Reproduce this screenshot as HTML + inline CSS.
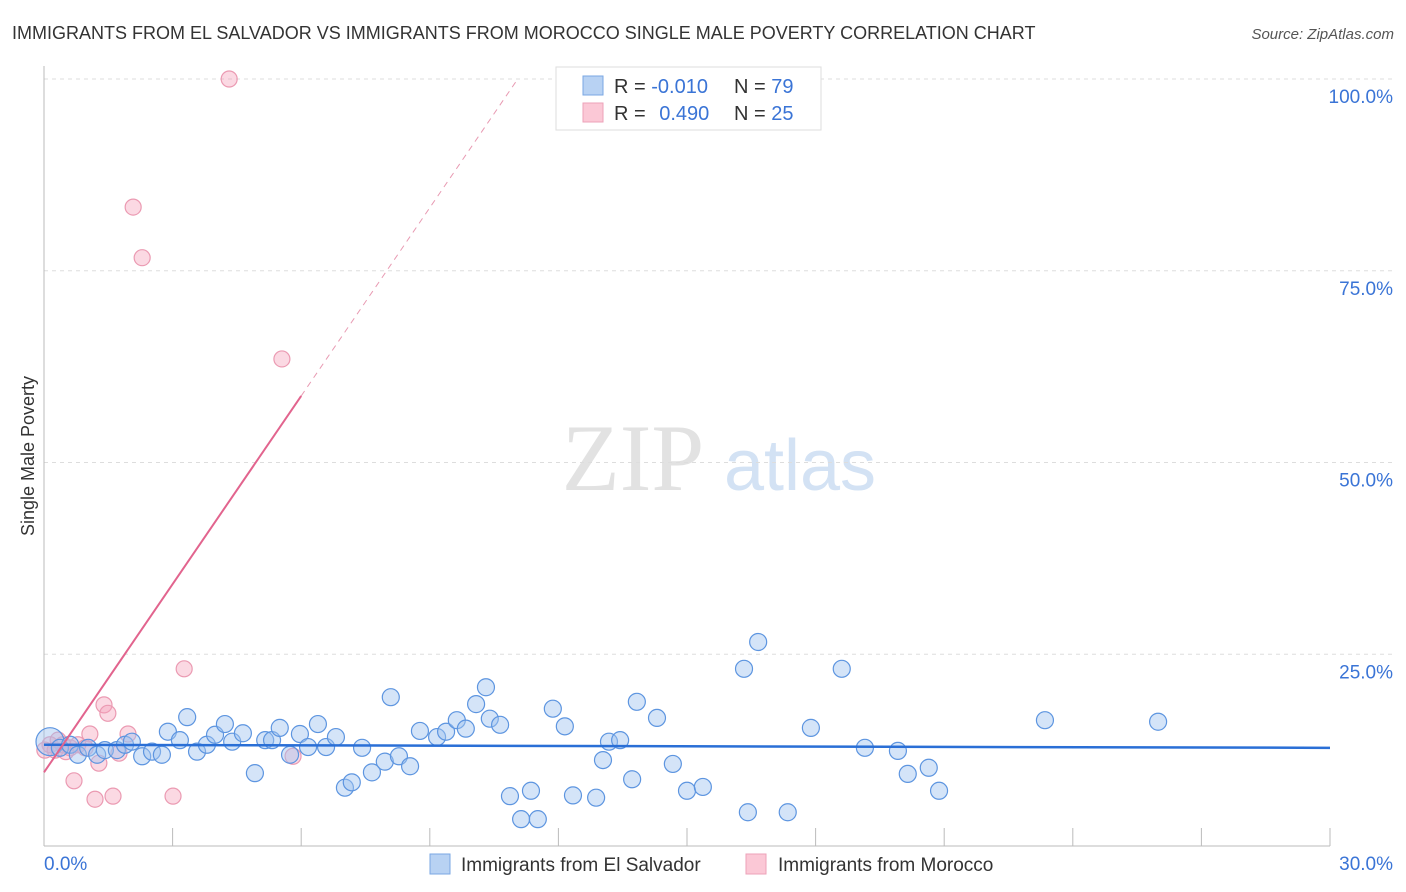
<!DOCTYPE html>
<html><head><meta charset="utf-8"><style>
body{margin:0;background:#fff;font-family:"Liberation Sans",sans-serif}
#wrap{position:relative;width:1406px;height:892px;overflow:hidden}
</style></head><body><div id="wrap">
<svg id="svg" width="1406" height="892" xmlns="http://www.w3.org/2000/svg">
<text x="12" y="39" font-size="18" fill="#333">IMMIGRANTS FROM EL SALVADOR VS IMMIGRANTS FROM MOROCCO SINGLE MALE POVERTY CORRELATION CHART</text>
<text x="1394" y="39" font-size="15" fill="#555" font-style="italic" text-anchor="end">Source: ZipAtlas.com</text>
<text x="0" y="0" transform="translate(34,456) rotate(-90)" font-size="18" fill="#333" text-anchor="middle">Single Male Poverty</text>
<g><text x="633" y="490" font-size="95" fill="#e2e2e2" font-family="Liberation Serif" text-anchor="middle">ZIP</text><text x="800" y="490" font-size="72" fill="#d3e2f4" text-anchor="middle">atlas</text></g>
<g id="grid"></g><g id="marks"></g>
<g>
<rect x="556" y="67" width="265" height="63" fill="#fff" stroke="#ddd"/>
<rect x="583" y="76" width="20" height="19" fill="#b8d2f3" stroke="#7aa7e3"/>
<rect x="583" y="103" width="20" height="19" fill="#fbc8d6" stroke="#eda2b8"/>
<text x="614" y="93" font-size="20" fill="#333">R = <tspan fill="#3a74d6">-0.010</tspan></text>
<text x="734" y="93" font-size="20" fill="#333">N = <tspan fill="#3a74d6">79</tspan></text>
<text x="614" y="120" font-size="20" fill="#333">R = <tspan fill="#3a74d6" dx="8">0.490</tspan></text>
<text x="734" y="120" font-size="20" fill="#333">N = <tspan fill="#3a74d6">25</tspan></text>
</g>
<g>
<rect x="430" y="854" width="20" height="20" fill="#b8d2f3" stroke="#7aa7e3"/>
<text x="461" y="871" font-size="19" fill="#333">Immigrants from El Salvador</text>
<rect x="746" y="854" width="20" height="20" fill="#fbc8d6" stroke="#eda2b8"/>
<text x="778" y="871" font-size="19" fill="#333">Immigrants from Morocco</text>
</g>
</svg></div>
<script>
const blueX=[0.14,0.37,0.61,0.79,1.03,1.24,1.42,1.70,1.89,2.05,2.29,2.52,2.75,2.89,3.17,3.34,3.57,3.80,3.99,4.22,4.39,4.64,4.92,5.16,5.32,5.50,5.74,5.97,6.16,6.39,6.58,6.81,7.02,7.18,7.42,7.65,7.95,8.09,8.28,8.54,8.77,9.17,9.38,9.63,9.84,10.08,10.31,10.40,10.64,10.87,11.13,11.36,11.52,11.87,12.15,12.34,12.88,13.04,13.18,13.44,13.72,13.83,14.30,14.67,15.00,15.37,16.33,16.42,16.66,17.35,17.89,18.61,19.15,19.92,20.15,20.64,20.88,23.35,25.99];
const blueY=[13.6,12.8,13.2,11.9,12.8,11.9,12.5,12.5,13.2,13.6,11.7,12.3,11.9,14.9,13.8,16.8,12.3,13.2,14.5,15.9,13.6,14.7,9.5,13.8,13.8,15.4,11.9,14.6,12.9,15.9,12.9,14.2,7.6,8.3,12.8,9.6,11.0,19.4,11.7,10.4,15.0,14.2,14.9,16.4,15.3,18.5,20.7,16.6,15.8,6.5,3.5,7.2,3.5,17.9,15.6,6.6,6.3,11.2,13.6,13.8,8.7,18.8,16.7,10.7,7.2,7.7,23.1,4.4,26.6,4.4,15.4,23.1,12.8,12.4,9.4,10.2,7.2,16.4,16.2];
const pinkX=[4.32,2.08,2.29,5.55,3.27,1.40,1.49,1.07,1.96,1.75,1.28,0.70,1.19,1.61,3.01,5.81,0.14,0.26,0.44,0.61,0.79,0.96,0.02,0.33,0.51];
const pinkY=[100.0,83.3,76.7,63.5,23.1,18.4,17.3,14.6,14.6,12.1,10.8,8.5,6.1,6.5,6.5,11.7,13.2,12.5,13.2,12.8,13.2,12.8,12.5,13.8,12.3];
const blueTrend=[13.2,12.8];
const pinkTrend=[9.6,8.18];
const xTicks=[0,3,6,9,12,15,18,21,24,27,30];
const yTicks=[25,50,75,100];
const yTickLabels=["25.0%","50.0%","75.0%","100.0%"];
const NS="http://www.w3.org/2000/svg";
const sx=v=>44+v/30*1286, sy=v=>846-v/100*767;
function mk(t,a,p){const e=document.createElementNS(NS,t);for(const k in a)e.setAttribute(k,a[k]);p.appendChild(e);return e;}
const grid=document.getElementById('grid'),marks=document.getElementById('marks');
yTicks.forEach((v,i)=>{
 const l=mk('line',{x1:44,x2:1392,y1:sy(v),y2:sy(v),stroke:'#ddd','stroke-dasharray':'4,4'},grid);
 
 
 const t=mk('text',{x:1393,y:sy(v)+24,'font-size':19,fill:'#3a74d6','text-anchor':'end'},grid);t.textContent=yTickLabels[i];
 
 
});
const ax=mk('line',{x1:44,x2:44,y1:66,y2:846,stroke:'#bbb'},grid);


const bx=mk('line',{x1:44,x2:1330,y1:846,y2:846,stroke:'#bbb'},grid);


xTicks.forEach(v=>{const l=mk('line',{x1:sx(v),x2:sx(v),y1:828,y2:846,stroke:'#bbb'},grid);
 
 });
const t0=mk('text',{x:44,y:870,'font-size':19,fill:'#3a74d6'},grid);t0.textContent='0.0%';


const t1=mk('text',{x:1393,y:870,'font-size':19,fill:'#3a74d6','text-anchor':'end'},grid);t1.textContent='30.0%';


pinkX.forEach((x,i)=>{const c=mk('circle',{cx:sx(x),cy:sy(pinkY[i]),r:8,fill:'rgba(245,160,185,0.4)',stroke:'#eb9ab2','stroke-width':1.2},marks);
 
 });
blueX.forEach((x,i)=>{const c=mk('circle',{cx:sx(x),cy:sy(blueY[i]),r:i===0?14:8.5,fill:'rgba(160,195,240,0.45)',stroke:'#5d95e0','stroke-width':1.2},marks);
 
 });
const bl=mk('line',{x1:sx(0),y1:sy(blueTrend[0]),x2:sx(30),y2:sy(blueTrend[1]),stroke:'#2a6fd6','stroke-width':2.5},marks);


const pl=mk('line',{x1:sx(0),y1:sy(pinkTrend[0]),x2:sx(6),y2:sy(pinkTrend[0]+pinkTrend[1]*6),stroke:'#e2648e','stroke-width':2},marks);


const xe=(100-pinkTrend[0])/pinkTrend[1];
const pd=mk('line',{x1:sx(6),y1:sy(pinkTrend[0]+pinkTrend[1]*6),x2:sx(xe),y2:sy(100),stroke:'#e89ab2','stroke-width':1,'stroke-dasharray':'6,5'},marks);


</script></body></html>
